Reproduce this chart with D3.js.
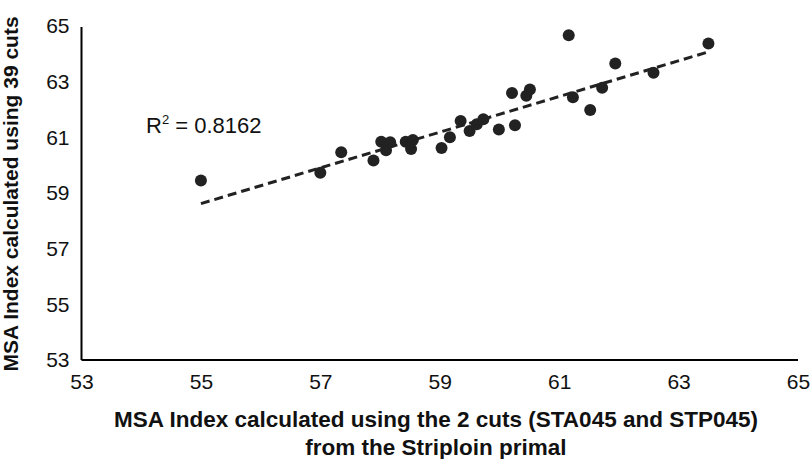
<!DOCTYPE html>
<html>
<head>
<meta charset="utf-8">
<script src="https://cdn.jsdelivr.net/npm/d3@7"></script>
<style>
  html, body { margin: 0; padding: 0; background: #fff; }
  svg { display: block; font-family: "Liberation Sans", Arial, sans-serif; }
</style>
</head>
<body>
<svg id="chart" width="812" height="459"></svg>
<script>
// ---- Data ----
const xValues = [55.0, 57.0, 57.35, 57.89, 58.02, 58.17, 58.1, 58.43, 58.55, 58.52,
                 59.03, 59.17, 59.35, 59.5, 59.62, 59.73, 59.99, 60.26, 60.21, 60.45,
                 60.51, 61.16, 61.23, 61.52, 61.72, 61.94, 62.58, 63.5];
const yValues = [59.45, 59.73, 60.46, 60.17, 60.84, 60.82, 60.54, 60.84, 60.90, 60.58,
                 60.62, 61.0, 61.59, 61.23, 61.47, 61.65, 61.28, 61.43, 62.59, 62.49,
                 62.72, 64.67, 62.44, 61.98, 62.78, 63.65, 63.32, 64.37];
// Linear trendline as shown in the figure (endpoints)
const trendX = [55.0, 63.5];
const trendY = [58.62, 64.07];
const xTicks = [53, 55, 57, 59, 61, 63, 65];
const yTicks = [53, 55, 57, 59, 61, 63, 65];
const r2Label = "0.8162";
const xTitle = ["MSA Index calculated using the 2 cuts (STA045 and STP045)", "from the Striploin primal"];
const yTitle = "MSA Index calculated using 39 cuts";

// ---- Layout ----
const svg = d3.select("#chart");
const x = d3.scaleLinear().domain([53, 65]).range([81.5, 798]);
const y = d3.scaleLinear().domain([53, 65]).range([360, 26]);

const points = xValues.map((v, i) => ({ x: v, y: yValues[i] }));
const trend = trendX.map((v, i) => [v, trendY[i]]);

// Axes
const xAxis = d3.axisBottom(x).tickValues(xTicks).tickSize(0).tickPadding(14).tickFormat(d3.format("d"));
const yAxis = d3.axisLeft(y).tickValues(yTicks).tickSize(0).tickPadding(12).tickFormat(d3.format("d"));

const gx = svg.append("g").attr("transform", "translate(0,360)").call(xAxis);
const gy = svg.append("g").attr("transform", "translate(81.5,0)").call(yAxis);
[gx, gy].forEach(g => {
  g.select(".domain").attr("stroke", "#000").attr("stroke-width", 2);
  g.selectAll("text").attr("font-size", 21).attr("fill", "#111")
    .attr("font-family", '"Liberation Sans", Arial, sans-serif');
});
gx.select(".domain").attr("d", `M${x(53)},0H${x(65)}`);
gy.select(".domain").attr("d", `M0,${y(53)}V${y(65) + 1}`);

// Trendline
svg.append("path")
  .datum(trend)
  .attr("d", d3.line().x(d => x(d[0])).y(d => y(d[1])))
  .attr("fill", "none")
  .attr("stroke", "#222").attr("stroke-width", 3)
  .attr("stroke-dasharray", "9,5");

// Points
svg.append("g").selectAll("circle").data(points).join("circle")
  .attr("cx", d => x(d.x)).attr("cy", d => y(d.y)).attr("r", 6)
  .attr("fill", "#222");

// R² label
const rt = svg.append("text").attr("x", 146).attr("y", 133)
  .attr("font-size", 22).attr("fill", "#111");
rt.append("tspan").text("R");
rt.append("tspan").attr("font-size", 13).attr("dy", -9).text("2");
rt.append("tspan").attr("dy", 9).text(" = " + r2Label);

// Axis titles
const xt = svg.append("text").attr("text-anchor", "middle")
  .attr("font-size", 22.5).attr("font-weight", "bold").attr("fill", "#111");
xt.selectAll("tspan").data(xTitle).join("tspan")
  .attr("x", 436).attr("y", (d, i) => 427 + i * 28).text(d => d);

svg.append("text")
  .attr("transform", "translate(18,194) rotate(-90)")
  .attr("text-anchor", "middle")
  .attr("font-size", 21).attr("font-weight", "bold").attr("fill", "#111")
  .text(yTitle);
</script>
</body>
</html>
